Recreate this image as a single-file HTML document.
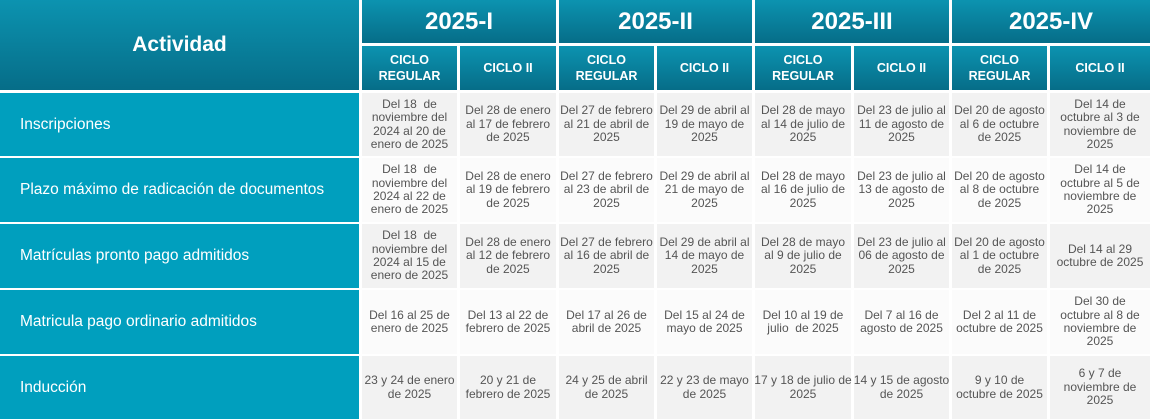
<!DOCTYPE html>
<html><head><meta charset="utf-8"><style>
body{margin:0;width:1150px;height:419px;background:#fff;position:relative;overflow:hidden;font-family:"Liberation Sans",sans-serif}
div.c{position:absolute;display:flex;align-items:center;justify-content:center;text-align:center;box-sizing:border-box}
.h{background:linear-gradient(#0c93b0,#066d88);color:#fff;font-weight:bold}
.y{font-size:24px}
.s{font-size:12.5px;line-height:16px}
.l{background:#009fbe;color:#fff;font-size:15.5px;justify-content:flex-start!important;padding-left:20px;text-align:left!important}
.d{color:#555;font-size:12px;line-height:13.4px;white-space:nowrap}
.o{background:#f2f2f2}.e{background:#fbfbfb}
</style></head><body>
<div id="g"></div>
<script>
const P=["2025-I","2025-II","2025-III","2025-IV"];
const R=[[93,63],[158,64],[224,64],[290,64],[356,63]];
const L=["Inscripciones","Plazo máximo de radicación de documentos","Matrículas pronto pago admitidos","Matricula pago ordinario admitidos","Inducción"];
const D=[
["Del 18&nbsp; de|noviembre del|2024 al 20 de|enero de 2025","Del 28 de enero|al 17 de febrero|de 2025","Del 27 de febrero|al 21 de abril de|2025","Del 29 de abril al|19 de mayo de|2025","Del 28 de mayo|al 14 de julio de|2025","Del 23 de julio al|11 de agosto de|2025","Del 20 de agosto|al 6 de octubre|de 2025","Del 14 de|octubre al 3 de|noviembre de|2025"],
["Del 18&nbsp; de|noviembre del|2024 al 22 de|enero de 2025","Del 28 de enero|al 19 de febrero|de 2025","Del 27 de febrero|al 23 de abril de|2025","Del 29 de abril al|21 de mayo de|2025","Del 28 de mayo|al 16 de julio de|2025","Del 23 de julio al|13 de agosto de|2025","Del 20 de agosto|al 8 de octubre|de 2025","Del 14 de|octubre al 5 de|noviembre de|2025"],
["Del 18&nbsp; de|noviembre del|2024 al 15 de|enero de 2025","Del 28 de enero|al 12 de febrero|de 2025","Del 27 de febrero|al 16 de abril de|2025","Del 29 de abril al|14 de mayo de|2025","Del 28 de mayo|al 9 de julio de|2025","Del 23 de julio al|06 de agosto de|2025","Del 20 de agosto|al 1 de octubre|de 2025","Del 14 al 29|octubre de 2025"],
["Del 16 al 25 de|enero de 2025","Del 13 al 22 de|febrero de 2025","Del 17 al 26 de|abril de 2025","Del 15 al 24 de|mayo de 2025","Del 10 al 19 de|julio&nbsp; de 2025","Del 7 al 16 de|agosto de 2025","Del 2 al 11 de|octubre de 2025","Del 30 de|octubre al 8 de|noviembre de|2025"],
["23 y 24 de enero|de 2025","20 y 21 de|febrero de 2025","24 y 25 de abril|de 2025","22 y 23 de mayo|de 2025","17 y 18 de julio de|2025","14 y 15 de agosto|de 2025","9 y 10 de|octubre de 2025","6 y 7 de|noviembre de|2025"]];
let h='';
const box=(x,y,w,hh,cls,t)=>`<div class="c ${cls}" style="left:${x}px;top:${y}px;width:${w}px;height:${hh}px">${t}</div>`;
h+=box(0,0,359,90,'h','<span style="font-size:21px">Actividad</span>');
const cx=i=>362+Math.round(i*98.3);
for(let p=0;p<4;p++){
 const x=cx(2*p);
 h+=box(x,0,(p==3?1150:cx(2*p+2)-3)-x,43,'h y',P[p]);
 h+=box(x,46,cx(2*p+1)-3-x,44,'h s','CICLO<br>REGULAR');
 h+=box(cx(2*p+1),46,(p==3?1150:cx(2*p+2)-3)-cx(2*p+1),44,'h s','CICLO II');
}
R.forEach(([y,hh],r)=>{
 h+=box(0,y,359,hh,'l',L[r]);
 for(let i=0;i<8;i++){const x=cx(i);const w=(i==7?1150:cx(i+1)-3)-x;
  h+=box(x,y,w,hh,'d '+(r%2?'e':'o'),D[r][i].split('|').join('<br>'));}
});
document.getElementById('g').innerHTML=h;
</script>
</body></html>
